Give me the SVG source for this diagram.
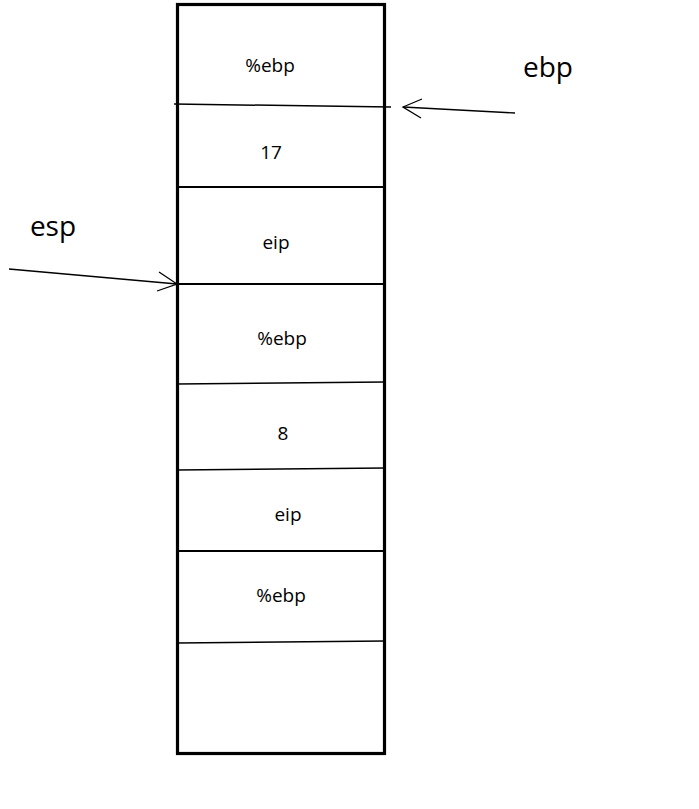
<svg xmlns="http://www.w3.org/2000/svg" width="699" height="809" viewBox="0 0 699 809">
<style>
.t{font-family:"Open Sans","Liberation Sans",sans-serif;font-size:19px;fill:#000;text-anchor:middle}
.big{font-family:"Open Sans","Liberation Sans",sans-serif;font-size:28px;fill:#000;text-anchor:middle}
.thin{stroke:#000;stroke-width:1.5;fill:none}
.sep{stroke:#000;stroke-width:2;fill:none}
.arr{stroke:#000;stroke-width:1.3;fill:none}
</style>
<rect width="699" height="809" fill="#fff"/>
<g id="stack">
<rect x="177.5" y="4.5" width="207" height="749" fill="none" stroke="#000" stroke-width="3.2"/>
</g>
<g id="separators">
<line class="thin" x1="174" y1="104" x2="391" y2="107"/>
<line class="sep" x1="177" y1="187" x2="385" y2="187"/>
<line class="sep" x1="177" y1="284" x2="385" y2="284"/>
<line class="thin" x1="177" y1="384" x2="385" y2="382"/>
<line class="thin" x1="177" y1="470" x2="385" y2="468"/>
<line class="sep" x1="177" y1="551" x2="385" y2="551"/>
<line class="thin" x1="177" y1="643" x2="385" y2="641"/>
</g>
<g id="cell1"><text class="t" x="270" y="72">%ebp</text></g>
<g id="cell2"><text class="t" x="271" y="159">17</text></g>
<g id="cell3"><text class="t" x="276" y="249">eip</text></g>
<g id="cell4"><text class="t" x="282" y="345">%ebp</text></g>
<g id="cell5"><text class="t" x="283" y="440">8</text></g>
<g id="cell6"><text class="t" x="288" y="521">eip</text></g>
<g id="cell7"><text class="t" x="281" y="602">%ebp</text></g>
<g id="ebp-label"><text class="big" x="548" y="77">ebp</text></g>
<g id="esp-label"><text class="big" x="53" y="236">esp</text></g>
<g id="connectors">
<line class="arr" x1="515" y1="113" x2="403" y2="107"/>
<polyline class="arr" points="422,99 403,107 421,118"/>
<line class="arr" x1="9" y1="269" x2="177" y2="284"/>
<polyline class="arr" points="159,272 177,284 157,291"/>
</g>
</svg>
